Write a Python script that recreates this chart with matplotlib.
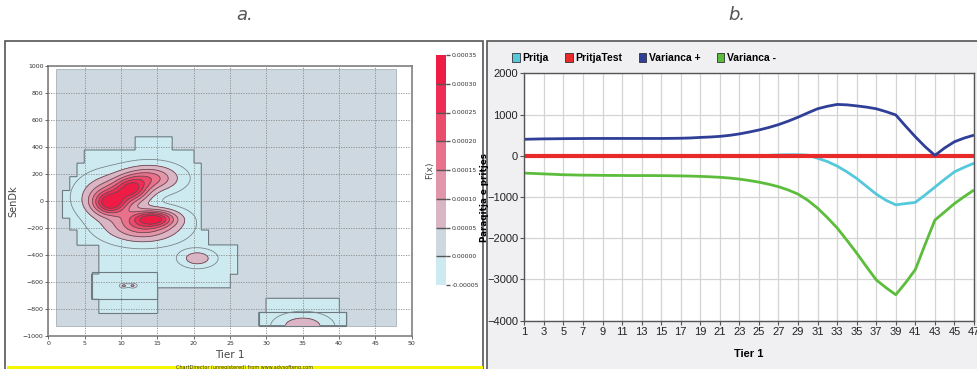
import numpy as np
import matplotlib
matplotlib.use("Agg")
import matplotlib.pyplot as plt
from matplotlib.colors import ListedColormap, BoundaryNorm
from matplotlib.patches import Rectangle, Patch, PathPatch
from matplotlib.path import Path
import matplotlib.cm as cm

W, H = 977, 369
narrow = ['Liberation Sans Narrow', 'Liberation Sans', 'DejaVu Sans']

# ---------------- panel b data ----------------
tier = np.arange(1, 48)
pritja = [-20, -20, -20, -20, -20, -20, -20, -20, -20, -20, -20, -20, -20, -20, -20, -20,
          -20, -20, -20, -20, -20, -15, -10, -5, 5, 10, 20, 25, 25, 15, -60, -140, -250,
          -390, -550, -740, -930, -1080, -1190, -1160, -1130, -950, -760, -570, -390, -280, -180]
pritja_test = [0] * len(tier)
var_plus = [400, 405, 410, 412, 415, 417, 418, 420, 420, 420, 420, 420, 420, 420, 420, 422,
            425, 432, 445, 455, 470, 495, 530, 575, 625, 685, 755, 840, 935, 1040, 1140, 1200,
            1245, 1235, 1210, 1180, 1140, 1070, 990, 720, 460, 220, 10, 190, 340, 430, 500]
var_minus = [-420, -430, -440, -450, -460, -465, -470, -472, -475, -477, -478, -480, -480, -480,
             -482, -485, -488, -493, -500, -510, -522, -540, -565, -600, -640, -690, -750, -830,
             -930, -1080, -1270, -1500, -1750, -2050, -2360, -2690, -3010, -3200, -3370, -3080,
             -2760, -2150, -1560, -1360, -1160, -990, -830]
series_names = ['Pritja', 'PritjaTest', 'Varianca +', 'Varianca -']
series_colors = ['#55c8dc', '#e82a2a', '#2f3f98', '#5cbd3c']

# ---------------- panel a data ----------------
# density peaks: centre x, centre y, height, spread x, spread y
peak_x = [11.5, 8.5, 14.5, 8.5, 14.0, 13.0, 20.5, 10.4, 11.6, 35.0]
peak_y = [88, -15, -127, 30, 170, -185, -423, -625, -625, -925]
peak_h = [2.4e-4, 2.2e-4, 2.4e-4, 1.6e-4, 1.7e-4, 1.8e-4, 0.85e-4, 0.6e-4, 0.6e-4, 0.9e-4]
peak_sx = [1.6, 1.5, 2.0, 2.4, 2.4, 3.1, 1.45, 0.35, 0.35, 2.2]
peak_sy = [60, 55, 40, 95, 60, 72, 39, 10, 10, 55]
# data domain (grey) and blocky negative zone (cyan): x0, x1, y0, y1
domain = (1.05, 47.9, -921, 975)
neg_rects = [(12, 17, 379, 477), (5, 20, 280, 379), (4, 21, 180, 280), (3, 21, -115, 180),
             (2, 3, -125, 78), (3, 21, -213, -115), (4, 22, -325, -213), (7, 26, -540, -325),
             (6, 25, -640, -540), (6, 15, -726, -640), (7, 15, -830, -726),
             (30, 40, -823, -719), (29, 41, -921, -823)]
outline_boxes = [(6, 15, -726, -522), (29, 41, -921, -823)]
levels = [-5e-5, 0, 5e-5, 1e-4, 1.5e-4, 2e-4, 2.5e-4, 3e-4, 3.5e-4]
level_colors = ['#cdeaf0', '#cdd8e0', '#dab6c5', '#e296aa', '#e8718b', '#ec4c6c', '#ee2c56', '#ee1c44']

fig = plt.figure(figsize=(W / 100, H / 100), dpi=100)

def px_rect(x, y, w, h, **kw):
    fig.add_artist(Rectangle((x / W, 1 - (y + h) / H), w / W, h / H,
                             transform=fig.transFigure, **kw))

# panel frames
px_rect(5, 41, 478, 330, fill=False, ec='#555555', lw=1.2, zorder=0)
px_rect(487, 41, 492, 330, fc='#f0f0f3', ec='#555555', lw=1.2, zorder=0)
px_rect(7, 366, 476, 4, fc='#f5f500', ec='none', zorder=1)
fig.text(245 / W, 1 - 367.5 / H, 'ChartDirector (unregistered) from www.advsofteng.com',
         fontsize=3.5, ha='center', va='center', color='#333333')

fig.text(245 / W, 1 - 15 / H, 'a.', fontsize=13, color='#555555', ha='center', va='center',
         family='DejaVu Sans', style='italic')
fig.text(737 / W, 1 - 15 / H, 'b.', fontsize=13, color='#555555', ha='center', va='center',
         family='DejaVu Sans', style='italic')

# ---------------- panel a ----------------
ax = fig.add_axes([48.3 / W, 32.7 / H, 363.4 / W, 270.3 / H])
gx = np.linspace(0, 50, 501)
gy = np.linspace(-1000, 1000, 801)
X, Y = np.meshgrid(gx, gy)
F = np.zeros_like(X)
for cx, cy, h, sx, sy in zip(peak_x, peak_y, peak_h, peak_sx, peak_sy):
    F += h * np.exp(-0.5 * ((X - cx) / sx) ** 2 - 0.5 * ((Y - cy) / sy) ** 2)
F = np.minimum(F, 3.45e-4)
outside = (X < domain[0]) | (X > domain[1]) | (Y < domain[2]) | (Y > domain[3])
F = np.ma.masked_where(outside, F)

M = np.zeros_like(X)
verts, codes = [], []
for x0, x1, y0, y1 in neg_rects:
    M[(X >= x0) & (X <= x1) & (Y >= y0) & (Y <= y1)] = 1
    verts += [(x0, y0), (x1, y0), (x1, y1), (x0, y1), (x0, y0)]
    codes += [Path.MOVETO, Path.LINETO, Path.LINETO, Path.LINETO, Path.CLOSEPOLY]

ax.add_patch(Rectangle((domain[0], domain[2]), domain[1] - domain[0], domain[3] - domain[2],
                       fc=level_colors[1], ec='#a8b2ba', lw=0.6, zorder=1))
ax.contourf(X, Y, M, levels=[0.5, 1.5], colors=[level_colors[0]], zorder=1.5)
ax.contour(X, Y, M, levels=[0.5], colors='#6f7a80', linewidths=0.8, zorder=1.6)
for x0, x1, y0, y1 in outline_boxes:
    ax.add_patch(Rectangle((x0, y0), x1 - x0, y1 - y0, fill=False, ec='#6f7a80', lw=0.8, zorder=1.6))

clip = PathPatch(Path(verts, codes), transform=ax.transData)
halo = ax.contour(X, Y, F, levels=[1.2e-5], colors='#7a858a', linewidths=0.6, zorder=1.7)
halo.set_clip_path(clip)

ax.contourf(X, Y, F, levels=levels[2:], colors=level_colors[2:], zorder=3)
ax.contour(X, Y, F, levels=levels[2:-1], colors='#6a4a55', linewidths=0.6, zorder=3.1)

ax.set_xlim(0, 50)
ax.set_ylim(-1000, 1000)
ax.set_xticks(range(0, 51, 5))
ax.set_yticks(range(-1000, 1001, 200))
ax.grid(True, ls=(0, (1.5, 1.5)), color='#8a8a8a', lw=0.6)
ax.set_axisbelow(False)
for gl in ax.get_xgridlines() + ax.get_ygridlines():
    gl.set_zorder(2)
ax.tick_params(labelsize=4.5, length=2, width=0.6, colors='#555555', labelcolor='#333333', pad=1.5)
for s in ax.spines.values():
    s.set_color('#808080')
    s.set_linewidth(1.2)
ax.set_xlabel('Tier 1', fontsize=7.5, color='#444444', labelpad=3)
ax.set_ylabel('SenDk', fontsize=7, color='#444444', labelpad=3)

# colour bar
cax = fig.add_axes([436 / W, 84 / H, 10 / W, 230 / H])
norm = BoundaryNorm(levels, len(level_colors))
cb = fig.colorbar(cm.ScalarMappable(norm=norm, cmap=ListedColormap(level_colors)), cax=cax,
                  ticks=levels, drawedges=True)
cb.outline.set_visible(False)
cb.dividers.set_color('#555555')
cb.dividers.set_linewidth(1.0)
cax.set_yticklabels(['%.5f' % v if v != 0 else '0.00000' for v in levels])
cax.tick_params(labelsize=4.5, length=3, width=1.0, colors='#555555', labelcolor='#333333', pad=1)
fig.text(430 / W, 1 - 170 / H, 'F(x)', rotation=90, fontsize=6.5, color='#444444',
         ha='center', va='center')

# ---------------- panel b ----------------
bx = fig.add_axes([524.3 / W, 48.3 / H, 449.7 / W, 247.4 / H])
for vals, name, col, lw in zip([pritja, pritja_test, var_plus, var_minus], series_names,
                               series_colors, [2.0, 3.0, 2.0, 2.0]):
    bx.plot(tier, vals, color=col, lw=lw, label=name, solid_capstyle='butt')
bx.set_xlim(1, 47)
bx.set_ylim(-4000, 2000)
bx.set_xticks(range(1, 48, 2))
bx.set_yticks(range(-4000, 2001, 1000))
bx.grid(True, color='#d4d4d4', lw=0.9)
bx.set_axisbelow(True)
for s in bx.spines.values():
    s.set_color('#555555')
    s.set_linewidth(1.0)
bx.tick_params(length=3, width=0.8, colors='#555555', labelcolor='#222222', pad=1.5)
for lab in bx.get_xticklabels() + bx.get_yticklabels():
    lab.set_family(narrow)
    lab.set_fontsize(8)
bx.set_xlabel('Tier 1', fontsize=8, family=narrow, weight='bold', labelpad=9)
bx.set_ylabel('Paraqitja e pritjes', fontsize=6.3, weight='bold')
bx.yaxis.set_label_coords(-0.079, 0.5)

handles = [Patch(fc=c, ec='#333333', lw=0.6) for c in series_colors]
leg = fig.legend(handles, series_names, loc='center left', bbox_to_anchor=(503 / W, 1 - 58 / H),
                 ncol=4, frameon=False, handlelength=0.7, handleheight=1.0, handletextpad=0.25,
                 columnspacing=1.6, prop={'family': narrow, 'size': 7.5, 'weight': 'bold'})

fig.savefig('out.png', dpi=100)
